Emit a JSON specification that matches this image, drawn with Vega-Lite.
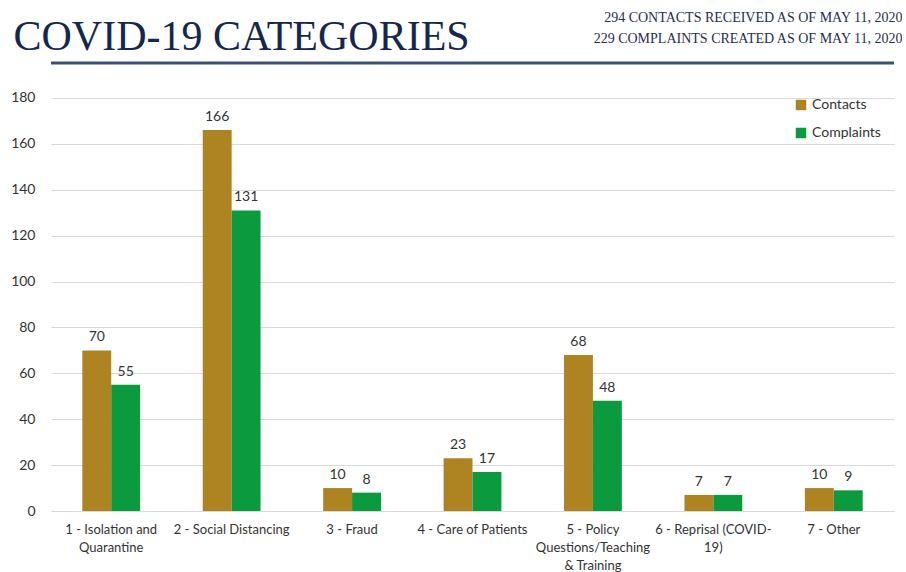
{
  "$schema": "https://vega.github.io/schema/vega-lite/v6.json",
  "width": 843,
  "height": 448,
  "autosize": {"type": "pad"},
  "padding": {"left": 10, "top": 10, "right": 0, "bottom": 0},
  "background": "white",
  "config": {
    "view": {"stroke": null},
    "font": "Lato"
  },
  "data": {
    "values": [
      {"category": "1 - Isolation and Quarantine", "series": "Contacts", "value": 70},
      {"category": "1 - Isolation and Quarantine", "series": "Complaints", "value": 55},
      {"category": "2 - Social Distancing", "series": "Contacts", "value": 166},
      {"category": "2 - Social Distancing", "series": "Complaints", "value": 131},
      {"category": "3 - Fraud", "series": "Contacts", "value": 10},
      {"category": "3 - Fraud", "series": "Complaints", "value": 8},
      {"category": "4 - Care of Patients", "series": "Contacts", "value": 23},
      {"category": "4 - Care of Patients", "series": "Complaints", "value": 17},
      {"category": "5 - Policy Questions/Teaching & Training", "series": "Contacts", "value": 68},
      {"category": "5 - Policy Questions/Teaching & Training", "series": "Complaints", "value": 48},
      {"category": "6 - Reprisal (COVID-19)", "series": "Contacts", "value": 7},
      {"category": "6 - Reprisal (COVID-19)", "series": "Complaints", "value": 7},
      {"category": "7 - Other", "series": "Contacts", "value": 10},
      {"category": "7 - Other", "series": "Complaints", "value": 9}
    ]
  },
  "encoding": {
    "x": {
      "field": "category",
      "type": "nominal",
      "sort": null,
      "scale": {"paddingInner": 0.52, "paddingOuter": 0.26},
      "axis": {
        "labelAngle": 0,
        "labelFontSize": 13,
        "labelColor": "#333333",
        "labelFont": "Lato",
        "labelPadding": 12,
        "labelLineHeight": 18,
        "labelBaseline": "top",
        "labelLimit": 200,
        "labelExpr": "{'1 - Isolation and Quarantine': ['1 - Isolation and', 'Quarantine'], '5 - Policy Questions/Teaching & Training': ['5 - Policy', 'Questions/Teaching', '& Training'], '6 - Reprisal (COVID-19)': ['6 - Reprisal (COVID-', '19)']}[datum.value] || datum.value",
        "domain": false,
        "ticks": false,
        "title": ["294 CONTACTS RECEIVED AS OF MAY 11, 2020", "229 COMPLAINTS CREATED AS OF MAY 11, 2020"],
        "titleFont": "Liberation Serif",
        "titleFontSize": 14,
        "titleFontWeight": "normal",
        "titleColor": "#1F2E4F",
        "titleAlign": "right",
        "titleBaseline": "top",
        "titleLineHeight": 21,
        "titleX": 851,
        "titleY": -501,
        "titleAngle": 0
      }
    },
    "xOffset": {"field": "series", "type": "nominal", "sort": ["Contacts", "Complaints"], "scale": {"paddingInner": 0, "paddingOuter": 0}},
    "y": {
      "field": "value",
      "type": "quantitative",
      "scale": {"domain": [0, 195.25], "nice": false, "zero": true},
      "axis": {
        "values": [0, 20, 40, 60, 80, 100, 120, 140, 160, 180],
        "grid": true,
        "gridColor": "#D9D9D9",
        "gridWidth": 1,
        "domain": false,
        "ticks": false,
        "labelFontSize": 14,
        "labelColor": "#333333",
        "labelPadding": 16,
        "title": "COVID-19 CATEGORIES",
        "titleFont": "Liberation Serif",
        "titleFontSize": 42,
        "titleFontWeight": "normal",
        "titleColor": "#14274E",
        "titleAngle": 0,
        "titleAlign": "left",
        "titleBaseline": "alphabetic",
        "titleX": -38,
        "titleY": -14
      }
    },
    "color": {
      "field": "series",
      "type": "nominal",
      "sort": ["Contacts", "Complaints"],
      "scale": {"domain": ["Contacts", "Complaints"], "range": ["#AE8422", "#0B9A3D"]},
      "legend": {
        "title": null,
        "orient": "none",
        "legendX": 743,
        "legendY": 35,
        "symbolType": "square",
        "symbolSize": 110,
        "symbolStrokeWidth": 0,
        "labelFontSize": 14,
        "labelColor": "#333333",
        "rowPadding": 14,
        "labelOffset": 4
      }
    }
  },
  "layer": [
    {"mark": {"type": "bar"}},
    {
      "mark": {"type": "text", "baseline": "alphabetic", "dy": -9, "fontSize": 14, "color": "#333333"},
      "encoding": {"text": {"field": "value", "type": "quantitative"}, "color": {"value": "#333333"}}
    },
    {
      "data": {"values": [{"top": 195.25}]},
      "mark": {"type": "rule", "color": "#3B5072", "strokeWidth": 3},
      "encoding": {"y": {"field": "top", "type": "quantitative"}, "x": null, "xOffset": null, "color": null}
    }
  ]
}
